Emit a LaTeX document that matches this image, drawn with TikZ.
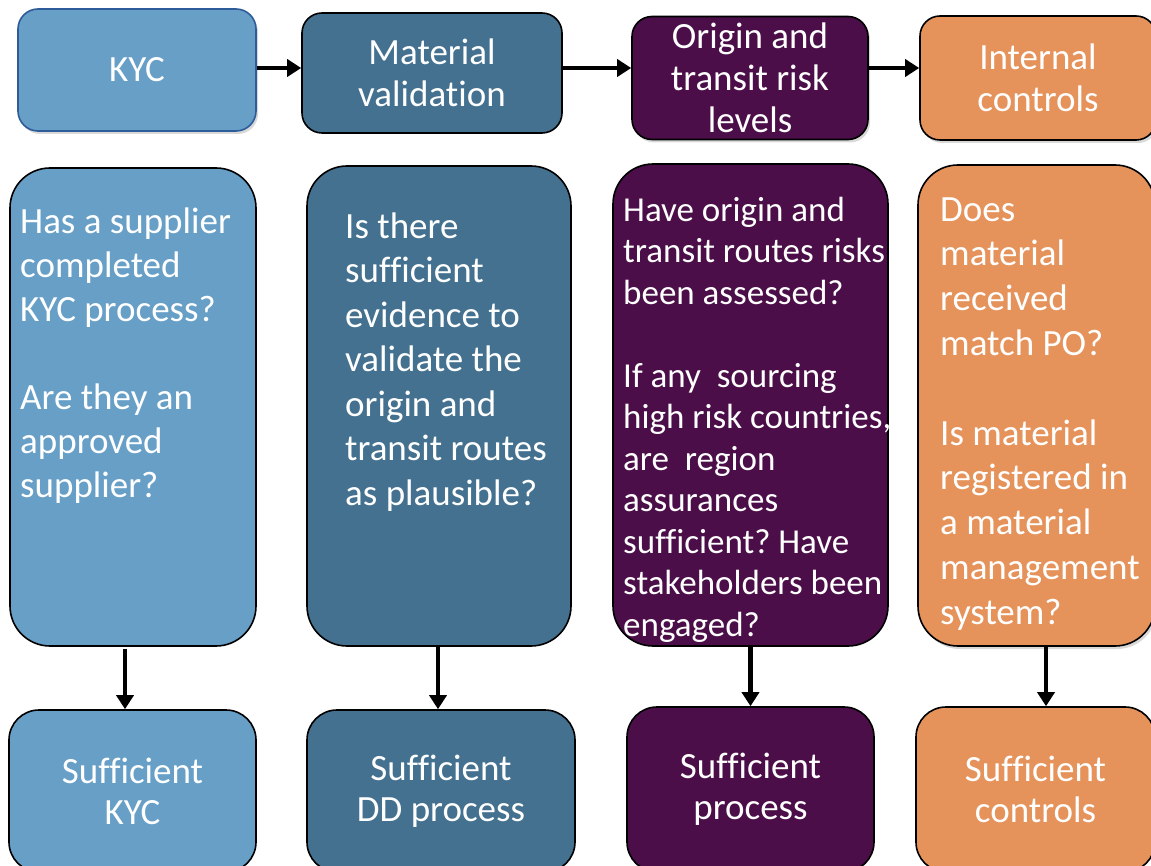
\documentclass[tikz,border=0pt]{standalone}
\usepackage{fontspec}
\setmainfont{Carlito}[Ligatures=NoCommon]
\usetikzlibrary{arrows.meta,shadows}
\frenchspacing

\definecolor{kycblue}{HTML}{679FC7}
\definecolor{kycedge}{HTML}{2E5C9A}
\definecolor{steel}{HTML}{43718F}
\definecolor{plum}{HTML}{4B0E48}
\definecolor{amber}{HTML}{E5935B}

\begin{document}
\begin{tikzpicture}[x=1pt,y=-1pt,
  box/.style={draw=black, line width=1.6pt, rounded corners=#1, text=white,
    align=center, inner sep=0pt},
  box/.default=20pt,
  shade/.style={drop shadow={opacity=0.3, shadow xshift=2pt, shadow yshift=-3pt}},
  headfont/.style={font=\fontsize{37}{42}\selectfont},
  endfont/.style={font=\fontsize{37}{41}\selectfont},
  qtext/.style={text=white, align=left, inner sep=0pt, anchor=north west},
  arr/.style={line width=4.8pt, -{Triangle[length=14pt,width=17pt]}},
]
\useasboundingbox (0,0) rectangle (1151,866);

% stage headers
\node[box, headfont, fill=kycblue, draw=kycedge, shade, minimum width=238, minimum height=122] (kyc) at (137,70) {KYC};
\node[box, headfont, fill=steel, minimum width=260, minimum height=120] (mv) at (432,73) {Material\\validation};
\node[box, headfont, fill=plum, shade, minimum width=236, minimum height=123] (orig) at (750,78) {Origin and\\transit risk\\levels};
\node[box, headfont, fill=amber, shade, minimum width=236, minimum height=124] (ic) at (1038,78) {Internal\\controls};

% question panels
\node[box=40pt, fill=kycblue, minimum width=246, minimum height=478] (q1) at (133,407) {};
\node[box=40pt, fill=steel, minimum width=264, minimum height=480] (q2) at (439,406) {};
\node[box=40pt, fill=plum, minimum width=275, minimum height=482] (q3) at (750.5,405) {};
\node[box=40pt, fill=amber, shade, minimum width=237, minimum height=481] (q4) at (1036.5,405.5) {};

\node[qtext, font=\fontsize{37}{44}\selectfont] (t1) at (20,202.2)
  {\strut Has a supplier\\completed\\KYC process?\\[44pt]Are they an\\approved\\supplier?};
\node[qtext, font=\fontsize{37}{44.5}\selectfont] (t2) at (345,206.9)
  {\strut Is there\\sufficient\\evidence to\\validate the\\origin and\\transit routes\\as plausible?};
\node[qtext, font=\fontsize{35}{41.5}\selectfont] (t3) at (623,192)
  {\strut Have origin and\\transit routes risks\\been assessed?\\[41.5pt]If any~ sourcing\\high risk countries,\\are~ region\\assurances\\sufficient? Have\\stakeholders been\\engaged?};
\node[qtext, font=\fontsize{37}{44.8}\selectfont] (t4) at (940,189.6)
  {\strut Does\\material\\received\\match PO?\\[44.8pt]Is material\\registered in\\a material\\management\\system?};

% outcomes
\node[box=30pt, endfont, fill=kycblue, minimum width=247, minimum height=162] (s1) at (132.5,791) {Sufficient\\KYC};
\node[box=30pt, endfont, fill=steel, minimum width=268, minimum height=162] (s2) at (441,791) {Sufficient\\DD process};
\node[box=30pt, endfont, fill=plum, minimum width=247, minimum height=165] (s3) at (750.5,789.5) {Sufficient\\process};
\node[box=30pt, endfont, fill=amber, minimum width=239, minimum height=165] (s4) at (1035.5,789.5) {Sufficient\\controls};

% flow between stages
\coordinate (row) at (0,68);
\draw[arr] (kyc.east |- row) -- (mv.west |- row);
\draw[arr] (mv.east |- row) -- (orig.west |- row);
\draw[arr] (orig.east |- row) -- (ic.west |- row);

% from questions to outcomes
\draw[arr] ([xshift=-8pt,yshift=-2pt]q1.south) -- ([xshift=-8pt]q1.south |- s1.north);
\draw[arr] ([xshift=-1pt]q2.south) -- ([xshift=-1pt]q2.south |- s2.north);
\draw[arr] (q3.south) -- (q3.south |- s3.north);
\draw[arr] ([xshift=9.5pt]q4.south) -- ([xshift=9.5pt]q4.south |- s4.north);
\end{tikzpicture}
\end{document}
